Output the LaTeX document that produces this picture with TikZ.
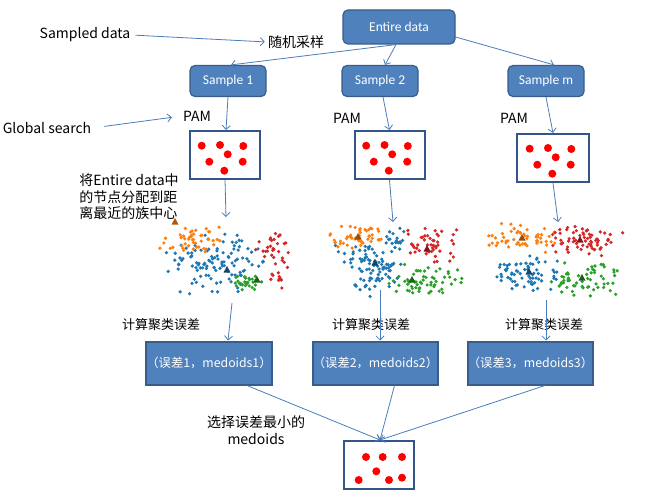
\documentclass[tikz,border=0pt]{standalone}
\usepackage{fontspec}
\setmainfont{Noto Sans CJK SC}
\newfontfamily\calfont{Carlito}
\usetikzlibrary{arrows.meta}
\definecolor{boxfill}{HTML}{4F81BD}
\definecolor{boxline}{HTML}{385D8A}
\definecolor{arrc}{HTML}{4A7EBB}
\definecolor{pamline}{HTML}{34558A}
\definecolor{co}{HTML}{FF7F0E}
\definecolor{cb}{HTML}{1F77B4}
\definecolor{cr}{HTML}{D62728}
\definecolor{cg}{HTML}{2CA02C}
\newcommand\clust[6]{%
  \foreach \k in {1,...,#5}{%
    \pgfmathsetmacro\px{#1+#3*(rand+rand)/1.6}%
    \pgfmathsetmacro\py{#2+#4*(rand+rand)/1.6}%
    \fill[#6] (\px,\py) circle (1.8);}}
\newcommand\tri[3]{\fill[#3] (#1,#2) ++(0,-4) -- ++(-3.5,6.5) -- ++(7,0) -- cycle;}
\newcommand\dotsA[1]{\begin{scope}[shift={(#1.center)}]
  \foreach \a/\b in {-23.3/-9.3,-5/-10,18.3/-9,2.7/-0.7,-15.7/6.7,17.7/6.7,-0.7/15.7}{\fill[red] (\a,\b) circle (4);}
  \end{scope}}
\newcommand\dotsB[1]{\begin{scope}[shift={(#1.center)}]
  \foreach \a/\b in {-13/-8,3.7/-8,23/-8,-2.7/6.3,-20.3/15,10/15,23/12.7}{\fill[red] (\a,\b) circle (4);}
  \end{scope}}
\begin{document}
\begin{tikzpicture}[x=1pt,y=-1pt,
  arr/.style={draw=arrc, line width=0.8pt, -{Straight Barb[length=4pt,width=8pt]}},
  rbox/.style={draw=boxline, line width=1.2pt, fill=boxfill, rounded corners=5pt, text=white,
    font=\calfont\fontsize{13.5}{15}\selectfont, inner sep=0pt},
  ebox/.style={draw=boxline, line width=2pt, fill=boxfill, text=white,
    font=\fontsize{12.3}{14}\selectfont, inner sep=0pt},
  pbox/.style={draw=pamline, line width=2pt, fill=white, inner sep=0pt, minimum width=70pt, minimum height=48pt},
  lbl/.style={font=\fontsize{14}{16.5}\selectfont, inner sep=1pt},
  slbl/.style={font=\fontsize{13}{15}\selectfont, inner sep=1pt}]
\fill[white] (0,0) rectangle (651,500);
\useasboundingbox (0,0) rectangle (651,500);

% top boxes
\node[rbox, minimum width=112pt, minimum height=34pt] (entire) at (399,27) {Entire data};
\node[rbox, minimum width=76pt, minimum height=31pt] (s1) at (228,81) {Sample 1};
\node[rbox, minimum width=76pt, minimum height=31pt] (s2) at (380,81) {Sample 2};
\node[rbox, minimum width=76pt, minimum height=31pt] (sm) at (546,81) {Sample m};

% PAM boxes
\node[pbox] (p1) at (225,155) {};
\node[pbox] (p2) at (389.5,155) {};
\node[pbox, minimum width=72pt] (p3) at (553,158) {};
\dotsA{p1}\dotsA{p2}\dotsA{p3}

% error boxes
\node[ebox, minimum width=125pt, minimum height=43pt] (e1) at (209,363) {（误差1，medoids1）};
\node[ebox, minimum width=123pt, minimum height=43pt] (e2) at (375.5,363) {（误差2，medoids2）};
\node[ebox, minimum width=124pt, minimum height=43pt] (e3) at (530.5,363) {（误差3，medoids3）};

% final box
\node[pbox] (fin) at (379,465) {};
\dotsB{fin}

% labels
\node[lbl] (sd) at (85,35) {Sampled data};
\node[lbl] (sj) at (296,42) {随机采样};
\node[lbl] (gs) at (47,128) {Global search};
\node[lbl] (pam1) at (197,116) {PAM};
\node[lbl] (pam2) at (347,118) {PAM};
\node[lbl] (pam3) at (514,118) {PAM};
\node[lbl, align=left] (assign) at (129,197) {将Entire data中\\的节点分配到距\\离最近的族中心};
\node[slbl] (c1) at (161,325) {计算聚类误差};
\node[slbl] (c2) at (371,325) {计算聚类误差};
\node[slbl] (c3) at (544,325) {计算聚类误差};
\node[lbl, align=center] (sel) at (256,430) {选择误差最小的\\medoids};

% scatter plots
\pgfmathsetseed{7}
\clust{212}{262}{45}{28}{110}{cb}
\clust{192}{240}{30}{13}{45}{co}
\clust{272}{258}{17}{25}{40}{cr}
\clust{248}{283}{13}{7}{30}{cg}
\tri{175}{222}{co!70!black}
\tri{227}{270}{cb!60!black}
\tri{257}{280}{cg!60!black}

\clust{368}{268}{30}{24}{90}{cb}
\clust{397}{240}{12}{12}{20}{cb}
\clust{358}{237}{27}{12}{50}{co}
\clust{432}{245}{24}{18}{50}{cr}
\clust{420}{281}{36}{14}{60}{cg}
\tri{358}{237}{co!60!black}
\tri{427}{249}{cr!60!black}
\tri{375}{263}{cb!60!black}
\tri{412}{280}{cg!60!black}

\clust{527}{273}{28}{19}{70}{cb}
\clust{522}{238}{30}{13}{55}{co}
\clust{588}{240}{33}{14}{65}{cr}
\clust{588}{279}{32}{16}{60}{cg}
\tri{522}{238}{co!60!black}
\tri{580}{240}{cr!60!black}
\tri{529}{272}{cb!60!black}
\tri{582}{278}{cg!60!black}

\coordinate (sc1top) at (226,217);
\coordinate (sc2top) at (393,222);
\coordinate (sc3top) at (558,222);
\coordinate (sc1bot) at (232,303);
\coordinate (sc2bot) at (380,290);
\coordinate (sc3bot) at (546,300);

% connectors
\draw[arr] ([xshift=-3pt]entire.south) -- ([xshift=3pt]s1.north);
\draw[arr] ([xshift=-3pt]entire.south) -- ([xshift=5pt]s2.north);
\draw[arr] ([yshift=-10pt]entire.east) -- ([xshift=8pt]sm.north);
\draw[arr] (s1.south) -- ([xshift=1pt]p1.north);
\draw[arr] ([xshift=3pt]s2.south) -- (p2.north);
\draw[arr] (sm.south) -- (p3.north);
\draw[arr] (p1.south) -- (sc1top);
\draw[arr] (p2.south) -- (sc2top);
\draw[arr] (p3.south) -- (sc3top);
\draw[arr] (sc1bot) -- ([xshift=19pt]e1.north);
\draw[arr] (sc2bot) -- ([xshift=4.5pt]e2.north);
\draw[arr] (sc3bot) -- ([xshift=15.5pt]e3.north);
\draw[arr] ([xshift=38pt]e1.south) -- ([xshift=1pt]fin.north);
\draw[arr] ([xshift=19pt]e2.south) -- ([xshift=1pt]fin.north);
\draw[arr] ([xshift=14.5pt]e3.south) -- ([xshift=1pt]fin.north);
\draw[arr, shorten <=4pt, shorten >=2pt] (sd.east) -- (sj.west);
\draw[arr, shorten <=12pt, shorten >=10pt] (gs.east) -- (pam1.west);
\end{tikzpicture}
\end{document}
